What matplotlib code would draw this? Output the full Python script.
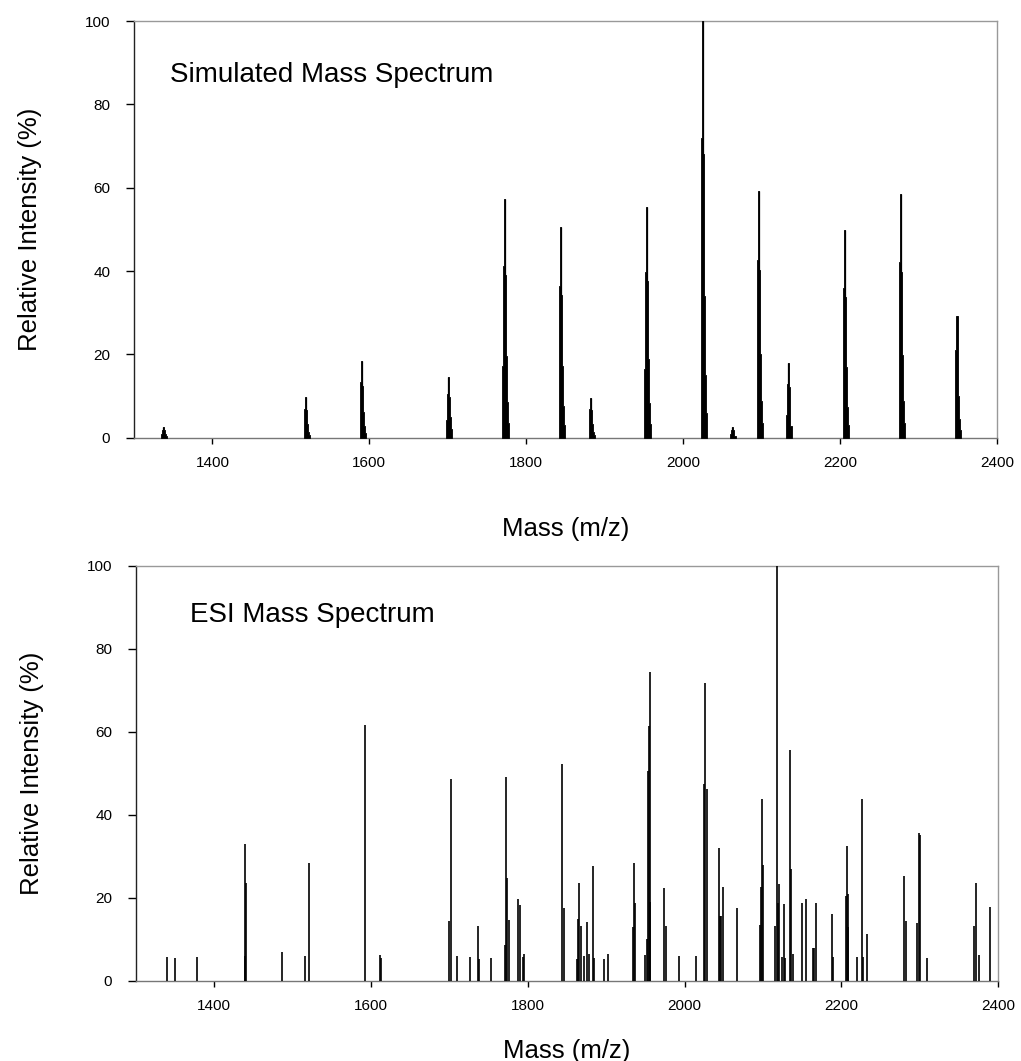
import numpy as np
import matplotlib
matplotlib.use('Agg')
import matplotlib.pyplot as plt

plt.rcParams.update({
    'font.family': ['Liberation Sans', 'DejaVu Sans'],
    'font.size': 10,
})

# simulated spectrum: cluster centres (m/z) and top intensity (%)
sim_center = [1337.5, 1519.0, 1590.4, 1700.9, 1772.3, 1844.2, 1882.4, 1953.3,
              2025.1, 2062.5, 2096.6, 2134.0, 2206.2, 2277.1, 2349.0]
sim_height = [2.6, 9.7, 18.4, 14.5, 57.3, 50.5, 9.6, 55.3,
              100.0, 2.6, 59.3, 17.9, 49.8, 58.6, 29.2]
# isotope envelope (offset in m/z, relative height)
iso_offset = [-2.6, -1.7, 0.0, 1.3, 2.1, 3.4, 5.1]
iso_rel = [0.30, 0.72, 1.0, 0.68, 0.34, 0.15, 0.06]

# ESI spectrum sticks
esi_mz = [1339.6, 1349.5, 1377.5, 1438.6, 1439.2, 1440.4, 1486.4, 1515.3, 1520.8,
          1592.7, 1611.0, 1612.7,
          1699.9, 1701.6, 1709.3, 1726.7, 1736.1, 1738.2, 1753.5,
          1771.3, 1772.2, 1773.9, 1776.0, 1787.1, 1790.1, 1793.5, 1795.2,
          1844.1, 1846.2, 1862.4, 1863.7, 1865.7, 1867.5, 1871.3, 1875.2, 1877.7,
          1882.8, 1884.5, 1897.3, 1902.4,
          1934.7, 1935.5, 1937.2, 1949.6, 1952.5, 1953.3, 1954.3, 1955.6, 1956.3,
          1973.4, 1976.0, 1993.0, 2015.0,
          2025.2, 2026.5, 2028.3, 2044.0, 2045.3, 2047.0, 2048.7, 2067.0,
          2095.9, 2097.2, 2098.5, 2100.1,
          2115.9, 2117.6, 2119.3, 2121.0, 2124.0, 2126.6, 2128.0,
          2134.6, 2136.3, 2138.0, 2150.0, 2154.6, 2164.0, 2165.2, 2167.4,
          2188.2, 2189.5, 2206.0, 2206.9, 2208.2, 2209.0,
          2220.0, 2226.1, 2228.2, 2232.8,
          2280.1, 2282.2, 2296.3, 2298.8, 2300.5, 2309.0,
          2369.7, 2371.5, 2375.7, 2390.2]
esi_int = [5.6, 5.4, 5.6, 5.9, 32.9, 23.5, 7.0, 5.9, 28.3,
           61.6, 6.1, 5.4,
           14.5, 48.6, 5.9, 5.6, 13.2, 5.3, 5.4,
           8.6, 49.2, 24.7, 14.6, 19.7, 18.2, 5.6, 6.5,
           52.2, 17.4, 5.2, 14.8, 23.6, 13.1, 5.9, 14.2, 6.5,
           27.6, 5.4, 5.3, 6.5,
           12.9, 28.4, 18.8, 6.1, 10.0, 50.6, 61.4, 74.3, 18.9,
           22.3, 13.2, 5.9, 5.9,
           47.4, 71.7, 46.1, 31.9, 15.6, 15.6, 22.5, 17.4,
           13.4, 22.5, 43.8, 27.9,
           13.1, 100.0, 18.8, 23.3, 5.6, 18.5, 5.4,
           55.6, 26.8, 6.5, 18.8, 19.7, 7.8, 7.9, 18.8,
           16.0, 5.8, 20.4, 32.5, 20.9, 13.0,
           5.8, 43.8, 5.8, 11.3,
           25.2, 14.5, 14.0, 35.7, 35.1, 5.4,
           13.2, 23.5, 6.3, 17.8]

fig = plt.figure(figsize=(10.21, 10.61), dpi=100)
axT = fig.add_axes([0.1312, 0.5875, 0.8453, 0.3927])
axB = fig.add_axes([0.1331, 0.0757, 0.8444, 0.3911])

# each simulated cluster: filled isotope staircase plus the thin main line
off = np.array(iso_offset)
rel = np.array(iso_rel)
for c, h in zip(sim_center, sim_height):
    axT.fill_between(c + off, 0, h * rel, step='mid', color='black', lw=0.6,
                     edgecolor='black', zorder=3)
axT.vlines(sim_center, 0, sim_height, color='black', lw=0.9, zorder=3)
axB.vlines(esi_mz, 0, esi_int, color='black', lw=1.2, zorder=3)


def style(ax, title, tx, ty, xl_y):
    ax.set_xlim(1300, 2400)
    ax.set_ylim(0, 100)
    ax.set_xticks([1400, 1600, 1800, 2000, 2200, 2400])
    ax.set_yticks([0, 20, 40, 60, 80, 100])
    ax.tick_params(axis='y', direction='out', length=6, width=1, pad=11, labelsize=11)
    ax.tick_params(axis='x', direction='out', length=4.5, width=1, pad=9, labelsize=11)
    ax.spines['left'].set_color('#222222')
    ax.spines['bottom'].set_color('#777777')
    ax.spines['top'].set_color('#999999')
    ax.spines['right'].set_color('#999999')
    for s in ax.spines.values():
        s.set_linewidth(1.0)
    ax.set_xlabel('Mass (m/z)', fontsize=18.5)
    ax.xaxis.set_label_coords(0.5, xl_y)
    ax.xaxis.label.set_va('top')
    ax.set_ylabel('Relative Intensity (%)', fontsize=18.5)
    ax.yaxis.set_label_coords(-0.107, 0.5)
    ax.text(tx, ty, title, transform=ax.transAxes, fontsize=20, ha='left', va='center')


style(axT, 'Simulated Mass Spectrum', 0.042, 0.87, -0.19)
style(axB, 'ESI Mass Spectrum', 0.063, 0.881, -0.14)

fig.savefig('out.png', dpi=100)
